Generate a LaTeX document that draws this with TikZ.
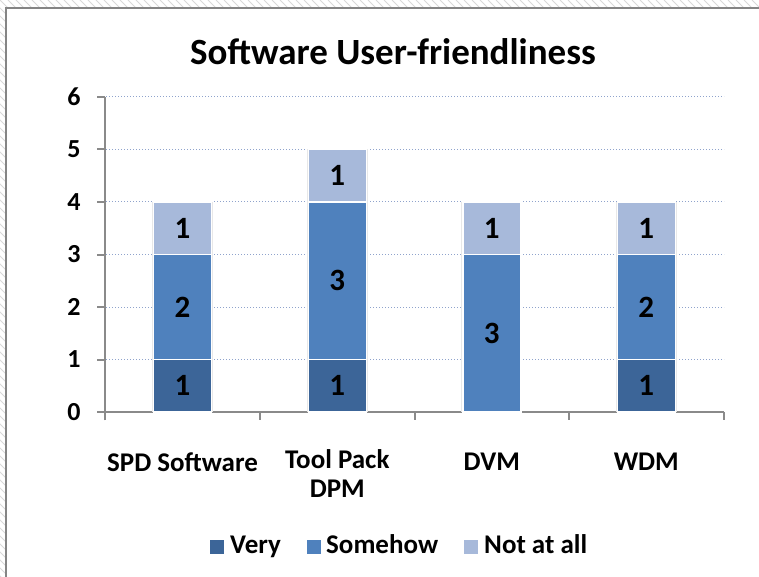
\documentclass[tikz,border=0pt]{standalone}
\usepackage{fontspec}
\setmainfont{Carlito}
\definecolor{cvery}{HTML}{3C6598}
\definecolor{csome}{HTML}{4F81BD}
\definecolor{cnot}{HTML}{A7B9DA}
\definecolor{cgrid}{HTML}{8FA3CC}
\definecolor{caxis}{HTML}{8A8A8A}
\definecolor{cframe}{HTML}{858585}
\tikzset{
  axisline/.style={draw=caxis,line width=2pt},
  gridline/.style={draw=cgrid,line width=1pt,dotted},
  barlabel/.style={font=\fontsize{31}{32}\selectfont\bfseries},
  catlabel/.style={font=\fontsize{27}{29}\selectfont\bfseries,align=center},
  ticklabel/.style={font=\fontsize{26}{27}\selectfont\bfseries,anchor=east},
  legtext/.style={font=\fontsize{27}{28}\selectfont\bfseries,anchor=base west,inner sep=0pt},
  legbox/.style={minimum size=14pt,inner sep=0pt},
}
\newcommand\barseg[6]{% name, x, y0, y1, colour, label
  \fill[gray!18] (#2-30.5,#3) rectangle (#2+30.5,#4);
  \fill[#5] (#2-29,#3) rectangle (#2+29,#4);
  \draw[white,line width=1.6pt] (#2-29,#3) rectangle (#2+29,#4);
  \node[barlabel] (#1) at (#2,{(#3+#4)/2}) {#6};
}
\begin{document}
\begin{tikzpicture}[x=1pt,y=-1pt]
\useasboundingbox (0,0) rectangle (759,577);
\clip (0,0) rectangle (759,577);
\fill[white] (0,0) rectangle (759,577);
% hatched surround
\begin{scope}
  \clip (0,0) rectangle (759,7) (0,0) rectangle (5,577);
  \foreach \i in {-600,-592,...,800}
    \draw[gray!30,line width=1pt] (\i,0) -- ++(600,600);
\end{scope}
% frame
\draw[cframe,line width=2.2pt] (6,577) -- (6,8) -- (759,8);
% title
\node[font=\fontsize{37}{40}\selectfont\bfseries] (title) at (393,52) {Software User-friendliness};
% chart area
\begin{scope}[yshift=-412pt,x=1pt,y=52.5pt]
  \foreach \v in {1,...,6}
    \draw[gridline] (106,\v) -- (724,\v);
  \foreach \v in {0,...,6}{
    \draw[axisline] (97,\v) -- (105,\v);
    \node[ticklabel] (t\v) at (84,\v) {\v};
  }
  \coordinate (ytop) at (105,6);
  \coordinate (ybot) at (105,-0.16);
  \coordinate (xl) at (97,0);
  \coordinate (xr) at (724,0);
  \draw[axisline] (ybot) -- (ytop);
  \draw[axisline] (xl) -- (xr);
  \foreach \x in {259.75,414.5,569.25,724}
    \draw[axisline] (\x,0) -- (\x,-0.16);
  % bars
  \barseg{a1}{182.5}{0}{1}{cvery}{1}
  \barseg{a2}{182.5}{1}{3}{csome}{2}
  \barseg{a3}{182.5}{3}{4}{cnot}{1}
  \barseg{b1}{337.3}{0}{1}{cvery}{1}
  \barseg{b2}{337.3}{1}{4}{csome}{3}
  \barseg{b3}{337.3}{4}{5}{cnot}{1}
  \barseg{c2}{491.8}{0}{3}{csome}{3}
  \barseg{c3}{491.8}{3}{4}{cnot}{1}
  \barseg{d1}{646.3}{0}{1}{cvery}{1}
  \barseg{d2}{646.3}{1}{3}{csome}{2}
  \barseg{d3}{646.3}{3}{4}{cnot}{1}
\end{scope}
% category labels
\node[catlabel] (c1) at (182.5,462) {SPD Software};
\node[catlabel,anchor=north] (c2) at (337.3,446) {Tool Pack\\DPM};
\node[catlabel] (c3) at (491.8,462) {DVM};
\node[catlabel] (c4) at (646.3,462) {WDM};
% legend
\node[legbox,fill=cvery] (l1) at (216.5,546.5) {};
\node[legtext] (lt1) at (230,553) {Very};
\node[legbox,fill=csome] (l2) at (313.5,546.5) {};
\node[legtext] (lt2) at (326,553) {Somehow};
\node[legbox,fill=cnot] (l3) at (470.5,546.5) {};
\node[legtext] (lt3) at (484,553) {Not at all};
\end{tikzpicture}
\end{document}
